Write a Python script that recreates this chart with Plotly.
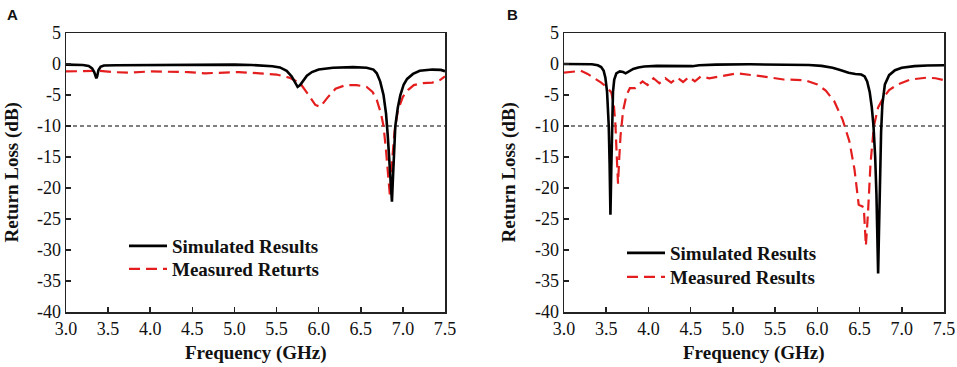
import plotly.graph_objects as go
from plotly.subplots import make_subplots

# ---------------- data ----------------
# Panel A
fA_sim = [3.00, 3.10, 3.20, 3.27, 3.31, 3.335, 3.35, 3.36, 3.37, 3.385, 3.41, 3.45, 3.60, 4.00,
          4.50, 5.00, 5.20, 5.35, 5.45, 5.54, 5.62, 5.68, 5.72, 5.75, 5.78, 5.82, 5.86, 5.92,
          6.00, 6.17, 6.41, 6.57, 6.65, 6.69, 6.73, 6.77, 6.80, 6.82, 6.84, 6.86, 6.87, 6.88,
          6.895, 6.91, 6.94, 6.97, 7.01, 7.05, 7.12, 7.20, 7.35, 7.45, 7.50]
rlA_sim = [-0.1, -0.1, -0.15, -0.3, -0.7, -1.3, -2.0, -2.3, -2.0, -1.0, -0.45, -0.25, -0.2, -0.15,
           -0.1, -0.1, -0.15, -0.25, -0.35, -0.55, -1.1, -2.0, -2.9, -3.7, -3.4, -2.6, -1.9, -1.3,
           -0.9, -0.6, -0.5, -0.6, -0.9, -1.5, -2.8, -5.0, -8.0, -11.5, -16.0, -20.5, -22.2, -19.0,
           -13.5, -10.0, -7.0, -5.0, -3.3, -2.4, -1.6, -1.1, -0.9, -0.95, -1.15]

fA_meas = [3.00, 3.20, 3.40, 3.55, 3.75, 4.00, 4.25, 4.45, 4.65, 4.85, 5.05, 5.30, 5.50, 5.65,
           5.78, 5.88, 5.96, 6.02, 6.10, 6.20, 6.32, 6.45, 6.57, 6.64, 6.69, 6.74, 6.77, 6.80,
           6.83, 6.845, 6.87, 6.90, 6.94, 7.00, 7.06, 7.13, 7.22, 7.35, 7.44, 7.50]
rlA_meas = [-1.2, -1.2, -1.1, -1.3, -1.4, -1.2, -1.2, -1.3, -1.5, -1.4, -1.3, -1.5, -1.7, -2.2,
            -3.1, -5.0, -6.6, -6.9, -5.5, -4.0, -3.4, -3.4, -3.7, -4.5, -5.8, -8.0, -10.0, -14.0,
            -19.0, -21.1, -16.0, -11.0, -7.5, -5.3, -4.2, -3.4, -3.1, -3.0, -2.6, -2.0]

# Panel B
fB_sim = [3.00, 3.20, 3.33, 3.40, 3.44, 3.47, 3.49, 3.51, 3.53, 3.54, 3.55, 3.56, 3.57, 3.58,
          3.595, 3.62, 3.66, 3.70, 3.73, 3.77, 3.82, 3.88, 3.95, 4.10, 4.30, 4.45, 4.52, 4.60,
          4.80, 5.20, 5.60, 5.90, 6.05, 6.18, 6.28, 6.37, 6.45, 6.52, 6.56, 6.59, 6.62, 6.645,
          6.665, 6.685, 6.70, 6.71, 6.72, 6.73, 6.74, 6.755, 6.77, 6.80, 6.85, 6.92, 7.00,
          7.15, 7.30, 7.50]
rlB_sim = [0.0, 0.0, -0.05, -0.2, -0.5, -1.1, -2.2, -4.5, -10.0, -16.0, -24.3, -17.0, -9.0, -4.5,
           -2.5, -1.5, -1.2, -1.3, -1.5, -1.2, -0.8, -0.55, -0.4, -0.3, -0.35, -0.45, -0.35, -0.2,
           -0.1, -0.05, -0.05, -0.15, -0.3, -0.6, -1.0, -1.4, -1.6, -1.7, -2.0, -2.8, -4.5, -7.0,
           -10.0, -15.0, -21.0, -27.0, -33.8, -27.0, -19.0, -11.0, -6.5, -3.3, -1.8, -1.0, -0.6,
           -0.35, -0.25, -0.2]

fB_meas = [3.00, 3.10, 3.20, 3.28, 3.36, 3.44, 3.52, 3.56, 3.59, 3.61, 3.625, 3.64, 3.655, 3.67,
           3.70, 3.74, 3.78, 3.84, 3.93, 3.99, 4.06, 4.13, 4.20, 4.27, 4.34, 4.41, 4.48, 4.55,
           4.62, 4.72, 4.85, 5.05, 5.35, 5.60, 5.85, 6.00, 6.10, 6.20, 6.30, 6.38, 6.44, 6.47,
           6.49, 6.55, 6.575, 6.60, 6.63, 6.67, 6.72, 6.78, 6.85, 6.95, 7.10, 7.30, 7.40, 7.50]
rlB_meas = [-1.4, -1.2, -1.1, -1.6, -2.3, -3.0, -3.9, -4.6, -6.5, -10.0, -15.0, -19.3, -15.0, -11.5,
            -7.5, -5.0, -3.9, -3.9, -2.8, -3.4, -2.3, -3.1, -2.3, -3.0, -2.2, -2.9, -2.1, -2.8,
            -2.0, -2.3, -2.0, -1.5, -2.0, -2.5, -2.6, -3.3, -4.3, -6.0, -9.0, -12.5, -17.0, -21.0,
            -22.7, -23.1, -29.3, -24.0, -16.0, -10.0, -7.0, -5.5, -4.2, -3.3, -2.5, -2.2, -2.3, -2.6]

THRESHOLD = -10
x_ticks = [3.0, 3.5, 4.0, 4.5, 5.0, 5.5, 6.0, 6.5, 7.0, 7.5]
x_tick_text = ["3.0", "3.5", "4.0", "4.5", "5.0", "5.5", "6.0", "6.5", "7.0", "7.5"]
y_ticks = [5, 0, -5, -10, -15, -20, -25, -30, -35, -40]
y_tick_text = ["5", "0", "-5", "-10", "-15", "-20", "-25", "-30", "-35", "-40"]

names_A = ["Simulated Results", "Measured Returts"]
names_B = ["Simulated Results", "Measured Results"]
panel_labels = ["A", "B"]
x_title = "Frequency (GHz)"
y_title = "Return Loss (dB)"

# ---------------- figure ----------------
W, H = 957, 367
BLACK = "#000000"
RED = "#e41e1e"
AXC = "#222222"
TXT = "#111111"
SERIF = "Liberation Serif, Times New Roman, serif"
SANS = "Liberation Sans, Arial, sans-serif"

fig = make_subplots(rows=1, cols=2)

# legend ids: one legend per row so each row can be placed exactly
panels = [
    (1, fA_sim, rlA_sim, fA_meas, rlA_meas, names_A, "legend", "legend2"),
    (2, fB_sim, rlB_sim, fB_meas, rlB_meas, names_B, "legend3", "legend4"),
]
for col, fs, rs, fm, rm, names, leg_s, leg_m in panels:
    fig.add_trace(go.Scatter(x=[x_ticks[0], x_ticks[-1]], y=[THRESHOLD, THRESHOLD], mode="lines",
                             line=dict(color=BLACK, width=1.2, dash="4px,3px"),
                             showlegend=False, hoverinfo="skip"), row=1, col=col)
    fig.add_trace(go.Scatter(x=fm, y=rm, mode="lines", name="<b>%s</b>" % names[1], legend=leg_m,
                             line=dict(color=RED, width=2.2, dash="11px,6px")), row=1, col=col)
    fig.add_trace(go.Scatter(x=fs, y=rs, mode="lines", name="<b>%s</b>" % names[0], legend=leg_s,
                             line=dict(color=BLACK, width=2.6)), row=1, col=col)

# plot-area pixel boxes
px_left = [66, 564]
px_right = [445, 944]
px_top, px_bot = 33, 312

for i in (1, 2):
    fig.update_xaxes(row=1, col=i, domain=[px_left[i - 1] / W, px_right[i - 1] / W],
                     range=[3.0, 7.5], automargin=False,
                     tickvals=x_ticks, ticktext=x_tick_text,
                     showline=True, mirror=True, linecolor=AXC, linewidth=1.5,
                     ticks="inside", ticklen=5, tickcolor=AXC, tickwidth=1.5,
                     showgrid=False, zeroline=False,
                     tickfont=dict(family=SERIF, size=18, color=TXT))
    fig.update_yaxes(row=1, col=i, domain=[1 - px_bot / H, 1 - px_top / H],
                     range=[-40, 5], automargin=False,
                     tickvals=y_ticks, ticktext=y_tick_text,
                     showline=True, mirror=True, linecolor=AXC, linewidth=1.5,
                     ticks="inside", ticklen=5, tickcolor=AXC, tickwidth=1.5,
                     showgrid=False, zeroline=False,
                     tickfont=dict(family=SERIF, size=18, color=TXT))

annotations = []
ytitle_x = [11, 508]
letter_x = [5, 505]
for i in range(2):
    cx = (px_left[i] + px_right[i]) / 2
    annotations.append(dict(text="<b>%s</b>" % x_title, x=cx / W, y=1 - 353 / H,
                            xref="paper", yref="paper", xanchor="center", yanchor="middle",
                            showarrow=False, font=dict(family=SERIF, size=19, color=TXT)))
    annotations.append(dict(text="<b>%s</b>" % y_title, x=ytitle_x[i] / W,
                            y=1 - ((px_top + px_bot) / 2) / H, textangle=-90,
                            xref="paper", yref="paper", xanchor="center", yanchor="middle",
                            showarrow=False, font=dict(family=SERIF, size=19, color=TXT)))
    annotations.append(dict(text="<b>%s</b>" % panel_labels[i], x=letter_x[i] / W, y=1 - 4 / H,
                            xref="paper", yref="paper", xanchor="left", yanchor="top",
                            showarrow=False, font=dict(family=SANS, size=15, color=TXT)))

legend_style = dict(font=dict(family=SERIF, size=19, color=TXT), bgcolor="rgba(0,0,0,0)",
                    borderwidth=0, itemwidth=38, xanchor="left", yanchor="middle")
# legend row positions (x of legend box left, y of row centre) in pixels
leg_pos = {"legend": (124, 246), "legend2": (124, 269),
           "legend3": (622, 253), "legend4": (622, 277)}
legends = {k: dict(x=v[0] / W, y=1 - v[1] / H, **legend_style) for k, v in leg_pos.items()}

fig.update_layout(
    width=W, height=H, autosize=False,
    margin=dict(l=0, r=0, t=0, b=0),
    paper_bgcolor="white", plot_bgcolor="white",
    hovermode=False,
    annotations=annotations,
    **legends,
)

fig.write_html("out.html", config={"displayModeBar": False, "staticPlot": True},
               post_script="document.body.style.margin='0';document.body.style.overflow='hidden';")
